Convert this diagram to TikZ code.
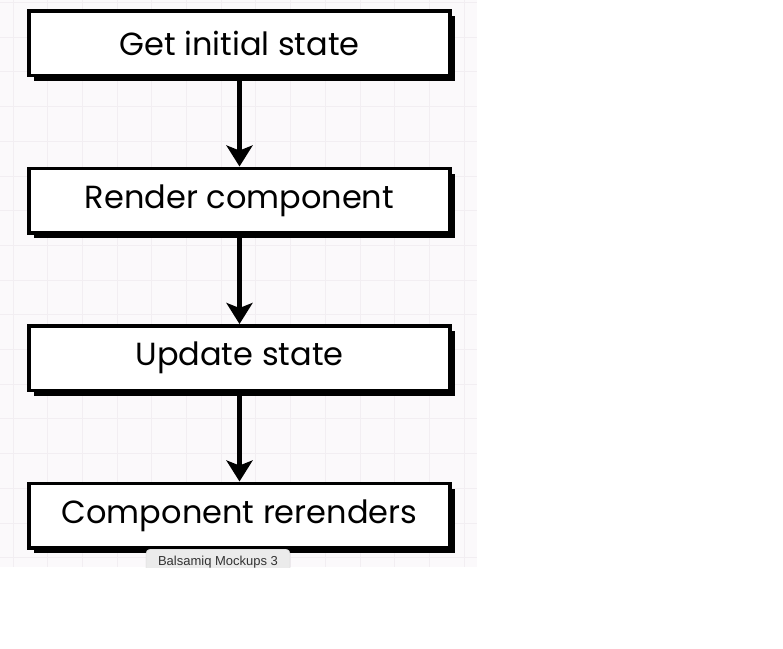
\documentclass[tikz,border=0pt]{standalone}
\usepackage{fontspec}
\setmainfont{Poppins}
\newfontfamily\tabfont{Liberation Sans}
\usepackage{tikz}
\usetikzlibrary{arrows.meta,positioning,shadows}
\definecolor{MockBg}{HTML}{FBF9FB}
\definecolor{MockGrid}{HTML}{F2EEF2}
\definecolor{MockTab}{HTML}{EBEBEB}
\definecolor{MockTabLine}{HTML}{CDCDCD}
\definecolor{MockText}{HTML}{333333}
\tikzset{
  mockbox/.style={draw=black,line width=3.5pt,fill=white,minimum width=421pt,minimum height=64.5pt,inner sep=0pt,font=\fontsize{32}{38}\selectfont,drop shadow={shadow xshift=5pt,shadow yshift=-5.5pt,fill=black,opacity=1}},
  mockarrow/.style={-{Stealth[length=21pt,width=26pt,inset=5pt]},line width=5pt,draw=black},
  mocktab/.style={draw=MockTabLine,fill=MockTab,rounded corners=4pt,minimum width=144pt,minimum height=26pt,inner sep=0pt,font=\tabfont\fontsize{13}{15}\selectfont,text=MockText}
}
\begin{document}
\begin{tikzpicture}[x=1pt,y=1pt,node distance=89.5pt]
\useasboundingbox (0,0) rectangle (783,-648);
\fill[white] (0,0) rectangle (783,-648);
% grid background
\fill[MockBg] (0,0) rectangle (477,-567);
\foreach \gx in {0,...,13}
  \draw[MockGrid,line width=1pt] (13+34.7*\gx,0) -- ++(0,-567);
\foreach \gy in {0,...,16}
  \draw[MockGrid,line width=1pt] (0,-2.5-34.7*\gy) -- ++(477,0);
% flow
\node[mockbox] (init) at (239.5,-43) {Get initial state};
\node[mockbox,below=of init] (render) {Render component};
\node[mockbox,below=of render] (update) {Update state};
\node[mockbox,below=of update] (rerender) {Component rerenders};
\draw[mockarrow] (init.south) -- (render.north);
\draw[mockarrow] (render.south) -- (update.north);
\draw[mockarrow] (update.south) -- (rerender.north);
% app tab
\begin{scope}
\clip (0,-540) rectangle (783,-567);
\node[mocktab,anchor=north] (tab) at (218,-549) {Balsamiq Mockups 3};
\end{scope}
\end{tikzpicture}
\end{document}
